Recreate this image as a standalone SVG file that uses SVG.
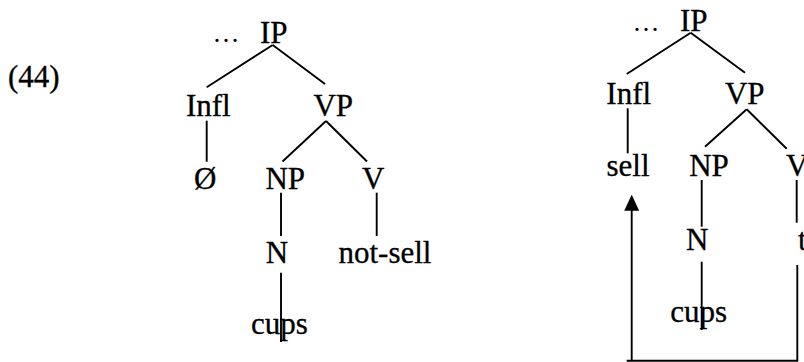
<svg xmlns="http://www.w3.org/2000/svg" width="804" height="362" viewBox="0 0 804 362">
<style>
text{font-family:'Liberation Serif','Times New Roman',serif;font-size:31px;fill:#000;stroke:#000;stroke-width:0.3;text-anchor:middle}
.st{text-anchor:start}
.dots{font-size:27px;stroke-width:0}
#connectors line{stroke:#000;stroke-width:1.9;fill:none}
</style>
<defs>
<marker id="arrow" markerUnits="userSpaceOnUse" markerWidth="16" markerHeight="16" viewBox="0 0 15 14" refX="10" refY="7" orient="auto">
<path d="M0,0 L15,7 L0,14 Z" fill="#000"/>
</marker>
</defs>
<rect width="804" height="362" fill="#fff"/>
<g id="label44"><text class="st" x="8" y="87">(44)</text></g>
<!-- left tree -->
<g id="L-dots"><text class="dots" x="226" y="42">…</text></g>
<g id="L-IP"><text x="273.7" y="42.7">IP</text></g>
<g id="L-Infl"><text x="208.3" y="116">Infl</text></g>
<g id="L-VP"><text x="333.3" y="116">VP</text></g>
<g id="L-null"><text x="205.3" y="188.5">Ø</text></g>
<g id="L-NP"><text x="285.3" y="189">NP</text></g>
<g id="L-V"><text x="373.3" y="189">V</text></g>
<g id="L-N"><text x="277" y="262.7">N</text></g>
<g id="L-notsell"><text x="385" y="262.7">not-sell</text></g>
<g id="L-cups"><text x="279.3" y="334.3">cups</text></g>
<!-- right tree -->
<g id="R-dots"><text class="dots" x="646" y="30.5">…</text></g>
<g id="R-IP"><text x="693.7" y="30.7">IP</text></g>
<g id="R-Infl"><text x="628.7" y="103.5">Infl</text></g>
<g id="R-VP"><text x="744.7" y="103.5">VP</text></g>
<g id="R-sell"><text x="628" y="176">sell</text></g>
<g id="R-NP"><text x="709" y="176">NP</text></g>
<g id="R-V"><text class="st" x="786" y="176">V</text></g>
<g id="R-N"><text x="697.3" y="250">N</text></g>
<g id="R-t"><text class="st" x="798" y="250">t</text></g>
<g id="R-cups"><text x="698.7" y="321.7">cups</text></g>
<g id="connectors">
<line x1="272.7" y1="45" x2="206.7" y2="87.3"/>
<line x1="272.7" y1="45" x2="325" y2="84"/>
<line x1="206.7" y1="120.7" x2="206.7" y2="161.7"/>
<line x1="326" y1="121" x2="282.5" y2="161.5"/>
<line x1="326" y1="121" x2="367" y2="161.5"/>
<line x1="281" y1="192.7" x2="281" y2="236"/>
<line x1="376.7" y1="192.7" x2="376.7" y2="236"/>
<line x1="281" y1="272.7" x2="281" y2="342"/>
<line x1="690.7" y1="32.7" x2="626.7" y2="74"/>
<line x1="690.7" y1="32.7" x2="745" y2="72.7"/>
<line x1="627.7" y1="108.3" x2="627.7" y2="153.3"/>
<line x1="746.7" y1="109.3" x2="705" y2="146.7"/>
<line x1="746.7" y1="109.3" x2="786.7" y2="148.7"/>
<line x1="701.7" y1="180" x2="701.7" y2="226.7"/>
<line x1="796.7" y1="180" x2="796.7" y2="222.7"/>
<line x1="701.7" y1="261.7" x2="701.7" y2="330"/>
<line x1="797.3" y1="265" x2="797.3" y2="360.7"/>
<line x1="626.7" y1="360.7" x2="798.2" y2="360.7"/>
<line x1="631.7" y1="360.7" x2="631.7" y2="200" marker-end="url(#arrow)"/>
</g>
</svg>
